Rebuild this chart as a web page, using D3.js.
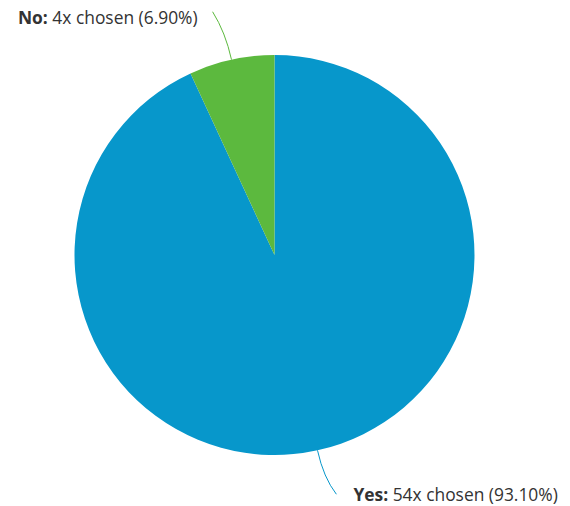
<!DOCTYPE html>
<html>
<head>
<meta charset="utf-8">
<script src="https://cdn.jsdelivr.net/npm/d3@7"></script>
<style>
  body { margin: 0; background: #fff; }
  text { font-family: "Open Sans", sans-serif; font-size: 17.4px; fill: #333; }
</style>
</head>
<body>
<div id="chart"></div>
<script>
  // données du sondage
  const categories = ["Yes", "No"];
  const counts = [54, 4];
  const percents = ["93.10%", "6.90%"];
  const colors = ["#0797cb", "#5cb93e"];

  const width = 570;
  const height = 506;
  const cx = 274.5, cy = 255;
  const radius = 200;

  const data = categories.map((c, i) => ({ category: c, count: counts[i], pct: percents[i], color: colors[i] }));

  const svg = d3.select("#chart").append("svg")
    .attr("width", width)
    .attr("height", height);

  const g = svg.append("g")
    .attr("transform", `translate(${cx},${cy})`);

  const pie = d3.pie().sort(null).value(d => d.count);
  const arc = d3.arc().innerRadius(0).outerRadius(radius);
  const arcs = pie(data);

  g.selectAll("path.slice")
    .data(arcs)
    .enter().append("path")
    .attr("class", "slice")
    .attr("d", arc)
    .attr("fill", d => d.data.color);

  const polar = (a, r) => [Math.sin(a) * r, -Math.cos(a) * r];

  // connecteurs + étiquettes
  arcs.forEach(d => {
    const mid = (d.startAngle + d.endAngle) / 2;
    const start = polar(mid, radius);
    const ctrl = polar(mid, radius + 28);
    const e = polar(mid, radius + 46);
    const side = e[0] < 0 ? -1 : 1;
    const end = [e[0] + side * 9, e[1] + (side < 0 ? -3 : -1)];

    const p = d3.path();
    p.moveTo(start[0], start[1]);
    p.quadraticCurveTo(ctrl[0], ctrl[1], end[0], end[1]);
    g.append("path")
      .attr("d", p.toString())
      .attr("fill", "none")
      .attr("stroke", d.data.color)
      .attr("stroke-width", 1);

    const t = g.append("text")
      .attr("x", end[0] + side * (side < 0 ? 15 : 17))
      .attr("y", end[1] + (side < 0 ? 12 : 7))
      .attr("text-anchor", side < 0 ? "end" : "start");
    t.append("tspan").attr("font-weight", "bold").text(d.data.category + ":");
    t.append("tspan").text(` ${d.data.count}x chosen (${d.data.pct})`);
  });
</script>
</body>
</html>
